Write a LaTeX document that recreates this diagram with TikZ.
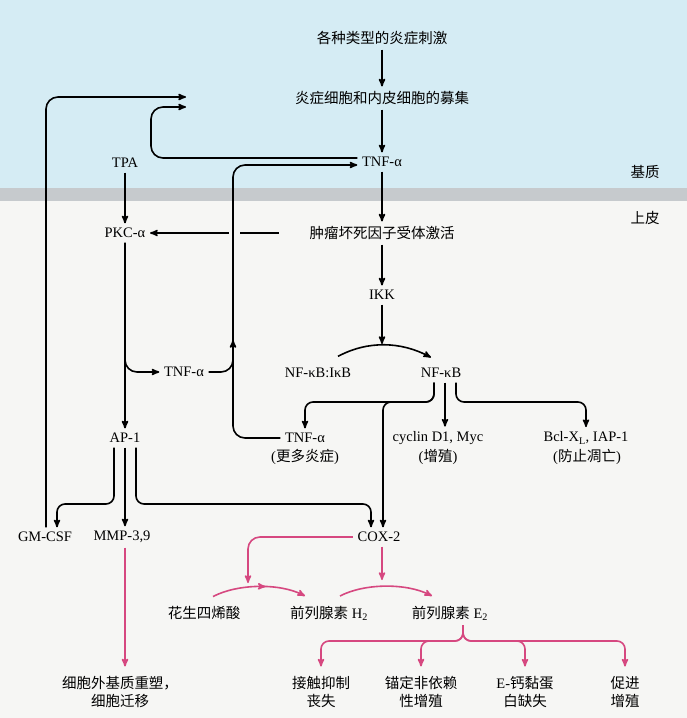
\documentclass[tikz,border=0pt]{standalone}
\usepackage{fontspec}
\setmainfont{Liberation Serif}
\newfontfamily\cjk{Noto Sans CJK SC}
\usepackage{tikz}
\usetikzlibrary{arrows,positioning,calc,decorations.markings}

\definecolor{stromablue}{RGB}{213,236,244}
\definecolor{bandgrey}{RGB}{198,202,205}
\definecolor{epiwhite}{RGB}{246,246,244}
\definecolor{pathpink}{RGB}{214,72,128}

\begin{document}
\begin{tikzpicture}[->,>=stealth',x=1pt,y=-1pt,line width=1.6pt,
  lbl/.style={font=\fontsize{14.5}{19}\selectfont,inner sep=4pt,align=center},
  cn/.style={lbl,font=\fontsize{14.5}{18}\selectfont\cjk},
  pk/.style={pathpink},
  mid arrow/.style={postaction={decorate},
    decoration={markings,mark=at position 0.57 with {\arrow{stealth'}}}}]
    % background: stroma, basement membrane, epithelium
    \fill[stromablue,-] (0,0) rectangle (687,190);
    \fill[bandgrey,-] (0,188) rectangle (687,201);
    \fill[epiwhite,-] (0,201) rectangle (687,718);
    \useasboundingbox (0,0) rectangle (687,718);

    \node[cn](stroma) at (645,172){基质};
    \node[cn](epi) at (645,218){上皮};

    \node[cn](stim) at (382,38){各种类型的炎症刺激};
    \node[cn](recruit) at (382,98){炎症细胞和内皮细胞的募集};
    \node[lbl](tnfTop) at (382,162){TNF-α};
    \node[lbl](tpa) at (125,163){TPA};
    \node[lbl](pkc) at (125,233){PKC-α};
    \node[cn](tnfr) at (382,233){肿瘤坏死因子受体激活};
    \node[lbl](ikk) at (382,295){IKK};
    \node[lbl](nfkbi) at (318,373){NF-κB:IκB};
    \node[lbl](nfkb) at (441,373){NF-κB};
    \node[lbl](tnfMid) at (184,372){TNF-α};
    \node[lbl](ap1) at (125,438){AP-1};
    \node[lbl](tnfB) at (305,438){TNF-α};
    \node[lbl](tnfBnote) at (305,457){({\cjk 更多炎症})};
    \node[lbl](cyclin) at (438,438){cyclin D1, Myc};
    \node[lbl](cyclinNote) at (438,457){({\cjk 增殖})};
    \node[lbl](bcl) at (586,438){Bcl-X\textsubscript{L}, IAP-1};
    \node[lbl](bclNote) at (587,457){({\cjk 防止凋亡})};

    \node[lbl](gmcsf) at (45,537){GM-CSF};
    \node[lbl](mmp) at (122,537){MMP-3,9};
    \node[lbl](cox) at (379,537){COX-2};
    \node[cn](ara) at (204,613){花生四烯酸};
    \node[lbl](pgh) at (329,613){{\cjk 前列腺素} H\textsubscript{2}};
    \node[lbl](pge) at (450,613){{\cjk 前列腺素} E\textsubscript{2}};
    \node[cn](ecm) at (120,692){细胞外基质重塑，\\细胞迁移};
    \node[cn](ci) at (321,692){接触抑制\\丧失};
    \node[cn](anch) at (421,692){锚定非依赖\\性增殖};
    \node[cn](ecad) at (525,692){{\rmfamily E-}钙黏蛋\\白缺失};
    \node[cn](prolif) at (625,692){促进\\增殖};

    \coordinate (recIn1) at (186,97);
    \coordinate (recIn2) at (186,107);
    \coordinate (vx) at (233,340);
    \coordinate (ikkEnd) at (382,344);
    \coordinate (brY) at (0,402);
    \coordinate (apY) at (0,504);
    \coordinate (coxLeft) at (248,583);
    \coordinate (coxDown) at (382,580);
    \coordinate (braceY) at (0,641);

    \path (stim) edge (recruit)
          (recruit) edge (tnfTop)
          (tnfTop) edge (tnfr)
          (tnfr) edge (ikk)
          (ikk) edge (ikkEnd)
          (tpa) edge (pkc)
          (pkc) edge (ap1)
    ;
    % receptor to PKC, broken where the feedback line passes
    \draw[dash pattern=on 39pt off 11pt on 300pt]
          ([xshift=-26pt]tnfr.west) -- (pkc.east);

    % IkB released
    \draw ([shift={(20pt,7pt)}]nfkbi.north) .. controls +(30pt,16pt) and +(-30pt,16pt) .. ([shift={(-10pt,6pt)}]nfkb.north);

    % NF-kB targets
    \draw[rounded corners=8pt] ([xshift=-7pt]nfkb.south) |- (tnfB.north |- brY) -- (tnfB.north);
    \draw[rounded corners=8pt] ([xshift=-7pt]nfkb.south) |- ([xshift=4pt]cox.north |- brY) -- ([xshift=4pt]cox.north);
    \draw ([xshift=4pt]nfkb.south) -- ([xshift=4pt]nfkb.south |- cyclin.north);
    \draw[rounded corners=8pt] ([xshift=15pt]nfkb.south) |- (bcl.north |- brY) -- (bcl.north);

    % TNF-a feedback
    \draw[-,rounded corners=12pt] (tnfB.west) -| (vx);
    \draw[rounded corners=12pt] (pkc.south) |- (tnfMid.west);
    \draw[rounded corners=12pt] (tnfMid.east) -| (vx);
    \draw[rounded corners=12pt] (vx) |- ([yshift=-3pt]tnfTop.west);
    \draw[rounded corners=12pt] ([yshift=4pt]tnfTop.west) -| ([xshift=-35pt]recIn2) -- (recIn2);
    \draw[rounded corners=12pt] ([xshift=1pt]gmcsf.north) |- (recIn1);

    % AP-1 targets
    \draw[rounded corners=8pt] ([xshift=-11pt]ap1.south) |- ([xshift=12pt]gmcsf.north |- apY) -- ([xshift=12pt]gmcsf.north);
    \path (ap1.south) edge (ap1.south |- mmp.north);
    \draw[rounded corners=8pt] ([xshift=11pt]ap1.south) |- ([xshift=-8pt]cox.north |- apY) -- ([xshift=-8pt]cox.north);

    % prostaglandin pathway
    \draw[pk,shorten >=5pt] (mmp.south -| ap1) -- (ecm.north -| ap1);
    \draw[pk,rounded corners=12pt] (cox.west) -| (coxLeft);
    \draw[pk] (cox.south -| coxDown) -- (coxDown);
    \draw[pk,mid arrow] ([shift={(9pt,5pt)}]ara.north) .. controls +(25pt,13pt) and +(-25pt,13pt) .. ([shift={(-24pt,5pt)}]pgh.north);
    \draw[pk] ([shift={(11pt,5pt)}]pgh.north) .. controls +(25pt,13pt) and +(-25pt,13pt) .. ([shift={(-18pt,5pt)}]pge.north);
    \foreach \t in {ci,anch,ecad,prolif}
      \draw[pk,rounded corners=8pt,shorten >=5pt] ([xshift=13pt]pge.south) |- (\t.north |- braceY) -- (\t.north);
\end{tikzpicture}
\end{document}
